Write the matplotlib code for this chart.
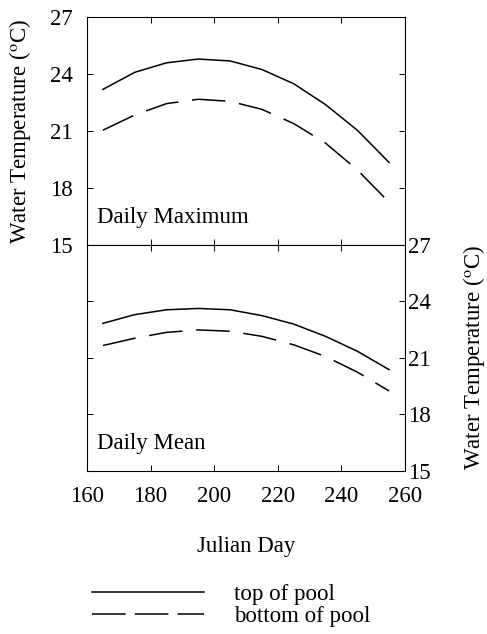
import matplotlib.pyplot as plt
from matplotlib.lines import Line2D

plt.rcParams["font.family"] = ["Liberation Serif", "DejaVu Serif"]
plt.rcParams["mathtext.fontset"] = "stix"

julian_day = [165, 175, 185, 195, 205, 215, 225, 235, 245, 255]

max_top = [23.2, 24.1, 24.6, 24.8, 24.7, 24.25, 23.5, 22.4, 21.05, 19.35]
max_bottom = [21.05, 21.85, 22.45, 22.68, 22.57, 22.15, 21.4, 20.37, 18.96, 17.25]

mean_top = [22.84, 23.3, 23.56, 23.63, 23.56, 23.25, 22.8, 22.15, 21.36, 20.38]
mean_bottom = [21.66, 22.05, 22.36, 22.49, 22.42, 22.15, 21.7, 21.08, 20.25, 19.25]

y_ticks = [15, 18, 21, 24, 27]
x_ticks = [160, 180, 200, 220, 240, 260]

ylabel = r"Water Temperature ($^{\mathrm{o}}$C)"
DASH = (0, (22, 9))
FS = 16.5


def style_axes(ax):
    ax.set_xlim(160, 260)
    ax.set_ylim(15, 27)
    ax.set_xticks(x_ticks)
    ax.set_yticks(y_ticks)
    ax.tick_params(direction="in", length=4, width=0.7, top=True, right=True,
                   left=True, bottom=True, labelsize=FS)
    for spine in ax.spines.values():
        spine.set_linewidth(0.8)


fig = plt.figure(figsize=(4.87, 6.34), dpi=100)
ax_max = fig.add_axes([0.1786, 0.6136, 0.653, 0.3591])
ax_mean = fig.add_axes([0.1786, 0.2571, 0.653, 0.3565])

ax_max.plot(julian_day, max_top, color="black", lw=1.1)
ax_max.plot(julian_day, max_bottom, color="black", lw=1.1, linestyle=DASH)
style_axes(ax_max)
ax_max.tick_params(axis="y", labelleft=True, labelright=False, pad=10)
ax_max.tick_params(axis="x", labelbottom=False)
ax_max.set_ylabel(ylabel, fontsize=FS)
ax_max.yaxis.set_label_coords(-0.17, 0.5)
ax_max.text(0.03, 0.12, "Daily Maximum", transform=ax_max.transAxes,
            fontsize=FS, ha="left", va="center")

ax_mean.plot(julian_day, mean_top, color="black", lw=1.1)
ax_mean.plot(julian_day, mean_bottom, color="black", lw=1.1, linestyle=DASH)
style_axes(ax_mean)
ax_mean.tick_params(axis="y", labelleft=False, labelright=True, pad=2)
ax_mean.tick_params(axis="x", pad=11)
ax_mean.yaxis.set_label_position("right")
ax_mean.set_ylabel(ylabel, fontsize=FS)
ax_mean.yaxis.set_label_coords(1.176, 0.5)
ax_mean.set_xlabel("Julian Day", fontsize=FS)
ax_mean.xaxis.set_label_coords(0.5, -0.286)
ax_mean.text(0.03, 0.12, "Daily Mean", transform=ax_mean.transAxes,
             fontsize=FS, ha="left", va="center")

handles = [
    Line2D([], [], color="black", lw=1.1),
    Line2D([], [], color="black", lw=1.1, linestyle=(0, (22, 6))),
]
fig.legend(handles, ["top of pool", "bottom of pool"], loc="upper left",
           bbox_to_anchor=(0.17, 0.093), frameon=False, fontsize=FS,
           handlelength=4.9, handletextpad=1.3, labelspacing=0.05,
           borderaxespad=0)

fig.savefig("out.png", dpi=100)
